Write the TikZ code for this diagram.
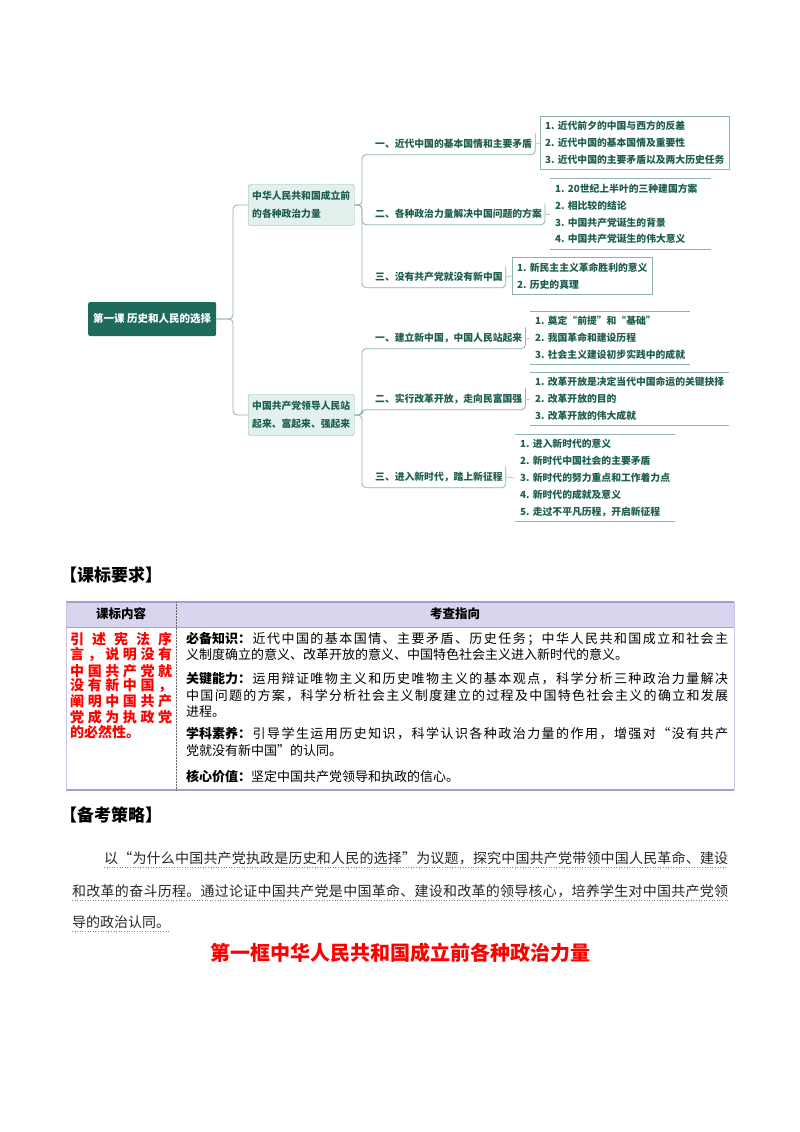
\documentclass[tikz,border=0pt]{standalone}
\usepackage{fontspec}
\newfontfamily\cjk{Noto Sans CJK SC}
\setmainfont{Noto Sans CJK SC}
\definecolor{teal1}{HTML}{1E6B5C}
\definecolor{tealtx}{HTML}{1D5E50}
\definecolor{tline}{HTML}{8FB3AA}
\definecolor{tline2}{HTML}{B9D0CA}
\definecolor{l1fill}{HTML}{E3F1EE}
\definecolor{lav}{HTML}{D9D5EE}
\definecolor{purp}{HTML}{A99BD6}
\def\spx#1{\ifx#1\relax\else\hskip0pt plus1fil #1\expandafter\spx\fi}
\newcommand{\jl}[3]{\makebox[#1][s]{#2\spx#3\relax}}
\begin{document}
\begin{tikzpicture}[x=1pt,y=-1pt,
  mm/.style={font=\cjk\bfseries\fontsize{9.8}{11}\selectfont, text=tealtx},
  l1/.style={mm, draw=tline, fill=l1fill, rounded corners=2pt, align=left, minimum width=106pt, minimum height=41pt, inner sep=4pt, anchor=west, font=\cjk\bfseries\fontsize{9.8}{18}\selectfont},
  l2/.style={mm, anchor=west, inner sep=3pt, minimum height=21pt},
  l3/.style={mm, anchor=west, align=left, inner sep=5pt, font=\cjk\bfseries\fontsize{9.8}{16.8}\selectfont},
  br/.style={draw=tline, line width=0.8pt, rounded corners=4pt},
  br3/.style={draw=tline2, line width=0.8pt},
  bx/.style={draw=tline, line width=0.8pt},
  body/.style={anchor=west, inner sep=0pt, font=\fontsize{13}{13}\selectfont},
  red/.style={anchor=west, inner sep=0pt, text=red, font=\bfseries\fontsize{14}{14}\selectfont},
  para/.style={anchor=west, inner sep=0pt, font=\fontsize{14}{14}\selectfont, text=black!85}]
\useasboundingbox (0,0) rectangle (800,1132);
\fill[white] (0,0) rectangle (800,1132);

% root
\node[fill=teal1, rounded corners=2pt, text=white, font=\cjk\bfseries\fontsize{10.5}{12}\selectfont, minimum width=128pt, minimum height=34pt, anchor=west] (root) at (88,319) {第一课 历史和人民的选择};
\node[l1] (l1a) at (248,205) {中华人民共和国成立前\\的各种政治力量};
\node[l1] (l1b) at (248,415) {中国共产党领导人民站\\起来、富起来、强起来};
\draw[br] (root.east) -- (233,319) |- (l1a.west);
\draw[br] (root.east) -- (233,319) |- (l1b.west);

% L2 nodes
\node[l2] (l2a) at (372,144) {一、近代中国的基本国情和主要矛盾};
\node[l2] (l2b) at (372,214) {二、各种政治力量解决中国问题的方案};
\node[l2] (l2c) at (372,277) {三、没有共产党就没有新中国};
\node[l2] (l2d) at (372,338) {一、建立新中国，中国人民站起来};
\node[l2] (l2e) at (372,399) {二、实行改革开放，走向民富国强};
\node[l2] (l2f) at (372,477) {三、进入新时代，踏上新征程};
\foreach \n in {l2a,l2b,l2c}{
  \draw[br] (l1a.east) -- (362,205) |- (\n.south east) -- (\n.north east);}
\foreach \n in {l2d,l2e,l2f}{
  \draw[br] (l1b.east) -- (362,415) |- (\n.south east) -- (\n.north east);}

% L3 nodes
\node[l3] (l3a) at (540,143) {1.\,\,近代前夕的中国与西方的反差\\2.\,\,近代中国的基本国情及重要性\\3.\,\,近代中国的主要矛盾以及两大历史任务};
\draw[bx] (l3a.north west) rectangle (l3a.south east);
\node[l3] (l3b) at (550,214) {1.\,\,20世纪上半叶的三种建国方案\\2.\,\,相比较的结论\\3.\,\,中国共产党诞生的背景\\4.\,\,中国共产党诞生的伟大意义};
\draw[bx] (l3b.north west) -- ([xshift=8pt]l3b.north east) (l3b.south west) -- ([xshift=8pt]l3b.south east);
\node[l3] (l3c) at (512,276) {1.\,\,新民主主义革命胜利的意义\\2.\,\,历史的真理};
\draw[bx] (l3c.north west) rectangle (l3c.south east);
\node[l3] (l3d) at (530,338) {1.\,\,奠定“前提”和“基础”\\2.\,\,我国革命和建设历程\\3.\,\,社会主义建设初步实践中的成就};
\draw[bx] (l3d.north west) -- (l3d.north east) (l3d.south west) -- (l3d.south east);
\node[l3] (l3e) at (530,399) {1.\,\,改革开放是决定当代中国命运的关键抉择\\2.\,\,改革开放的目的\\3.\,\,改革开放的伟大成就};
\draw[bx] (l3e.north west) -- (l3e.north east) (l3e.south west) -- (l3e.south east);
\node[l3] (l3f) at (515,478) {1.\,\,进入新时代的意义\\2.\,\,新时代中国社会的主要矛盾\\3.\,\,新时代的努力重点和工作着力点\\4.\,\,新时代的成就及意义\\5.\,\,走过不平凡历程，开启新征程};
\draw[bx] (l3f.north west) -- (l3f.north east) (l3f.south west) -- (l3f.south east);
\draw[br3] (l2a.east) -- (l3a.west);
\draw[br3] (l2b.east) -- (l3b.west);
\draw[br3] (l2c.east) -- (l3c.west);
\draw[br3] (l2d.east) -- (l3d.west);
\draw[br3] (l2e.east) -- (l3e.west);
\draw[br3] (l2f.east) -- (l3f.west);

% section 1
\node[anchor=west, inner sep=0pt, font=\bfseries\fontsize{17}{17}\selectfont] (s1) at (60,575) {【课标要求】};
\fill[lav] (66,602) rectangle (734,627);
\draw[purp, line width=1.2pt] (66,602) -- (734,602);
\draw[purp, line width=0.6pt] (66,627) -- (734,627);
\draw[purp, line width=1.2pt] (66,790) -- (734,790);
\draw[purp!60, line width=0.4pt] (66,602) -- (66,790) (734,602) -- (734,790);
\draw[black!60, densely dotted, line width=0.5pt] (176,602) -- (176,790);
\node[font=\bfseries\fontsize{12.5}{13}\selectfont] (h1) at (121,614) {课标内容};
\node[font=\bfseries\fontsize{12.5}{13}\selectfont] (h2) at (455,614) {考查指向};

\node[red] (r1) at (70,639) {\jl{102pt}{引}{述宪法序}};
\node[red] (r2) at (70,655) {\jl{102pt}{言}{，说明没有}};
\node[red] (r3) at (70,671) {\jl{102pt}{中}{国共产党就}};
\node[red] (r4) at (70,686) {\jl{102pt}{没}{有新中国，}};
\node[red] (r5) at (70,701) {\jl{102pt}{阐}{明中国共产}};
\node[red] (r6) at (70,717) {\jl{102pt}{党}{成为执政党}};
\node[red] (r7) at (70,732) {的必然性。};

\node[body] (b1) at (186,639) {\jl{542pt}{\textbf{必备知识：}}{近代中国的基本国情、主要矛盾、历史任务；中华人民共和国成立和社会主}};
\node[body] (b2) at (186,655) {义制度确立的意义、改革开放的意义、中国特色社会主义进入新时代的意义。};
\node[body] (b3) at (186,679) {\jl{542pt}{\textbf{关键能力：}}{运用辩证唯物主义和历史唯物主义的基本观点，科学分析三种政治力量解决}};
\node[body] (b4) at (186,696) {\jl{542pt}{中}{国问题的方案，科学分析社会主义制度建立的过程及中国特色社会主义的确立和发展}};
\node[body] (b5) at (186,712) {进程。};
\node[body] (b6) at (186,734) {\jl{542pt}{\textbf{学科素养：}}{引导学生运用历史知识，科学认识各种政治力量的作用，增强对“没有共产}};
\node[body] (b7) at (186,751) {党就没有新中国”的认同。};
\node[body] (b8) at (186,777) {\textbf{核心价值：}坚定中国共产党领导和执政的信心。};

% section 2
\node[anchor=west, inner sep=0pt, font=\bfseries\fontsize{17}{17}\selectfont] (s2) at (60,815) {【备考策略】};
\node[para] (p1) at (104,858) {\jl{624pt}{以}{“为什么中国共产党执政是历史和人民的选择”为议题，探究中国共产党带领中国人民革命、建设}};
\node[para] (p2) at (72,891) {\jl{656pt}{和}{改革的奋斗历程。通过论证中国共产党是中国革命、建设和改革的领导核心，培养学生对中国共产党领}};
\node[para] (p3) at (72,922) {导的政治认同。};
\draw[black!50, dotted, line width=0.6pt] (104,867) -- (728,867) (72,900) -- (728,900) (72,931) -- (p3.east |- 0,931);

\node[text=red, font=\bfseries\fontsize{20}{20}\selectfont] (t) at (400,953) {第一框中华人民共和国成立前各种政治力量};
\end{tikzpicture}
\end{document}
